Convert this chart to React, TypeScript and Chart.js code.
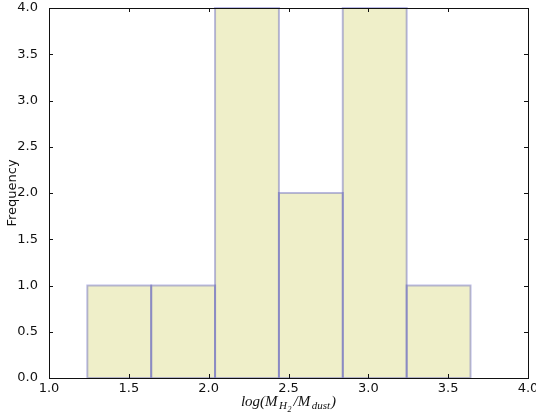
import React, { useEffect, useRef } from "react";
import { Chart, registerables } from "chart.js";

Chart.register(...registerables);

const binEdges = [1.24, 1.64, 2.04, 2.44, 2.84, 3.24, 3.64];
const frequencies = [1, 1, 4, 2, 4, 1];
const xTickValues = [1.0, 1.5, 2.0, 2.5, 3.0, 3.5, 4.0];
const yTickValues = [0.0, 0.5, 1.0, 1.5, 2.0, 2.5, 3.0, 3.5, 4.0];
const yTitle = "Frequency";

const framePlugin = {
  id: "framePlugin",
  afterDatasetsDraw(chart: any) {
    const ctx = chart.ctx;
    const meta = chart.getDatasetMeta(0);
    ctx.save();
    ctx.lineWidth = 2;
    ctx.strokeStyle = "rgba(70,70,190,0.36)";
    meta.data.forEach((el: any) => {
      const p = el.getProps(["x", "y", "base", "width"], true);
      ctx.strokeRect(p.x - p.width / 2, p.y, p.width, p.base - p.y);
    });
    ctx.restore();
  },
  afterDraw(chart: any) {
    const ctx = chart.ctx;
    const a = chart.chartArea;
    const xs = chart.scales.x;
    const ys = chart.scales.y;
    ctx.save();
    ctx.strokeStyle = "#111";
    ctx.lineWidth = 1;
    ctx.strokeRect(Math.round(a.left) + 0.5, Math.round(a.top) + 0.5, Math.round(a.right - a.left), Math.round(a.bottom - a.top));
    const tl = 4;
    ctx.beginPath();
    xTickValues.forEach((v) => {
      const px = Math.round(xs.getPixelForValue(v)) + 0.5;
      ctx.moveTo(px, a.bottom);
      ctx.lineTo(px, a.bottom - tl);
      ctx.moveTo(px, a.top);
      ctx.lineTo(px, a.top + tl);
    });
    yTickValues.forEach((v) => {
      const py = Math.round(ys.getPixelForValue(v)) + 0.5;
      ctx.moveTo(a.left, py);
      ctx.lineTo(a.left + tl, py);
      ctx.moveTo(a.right, py);
      ctx.lineTo(a.right - tl, py);
    });
    ctx.stroke();

    // y title
    ctx.fillStyle = "#111";
    ctx.font = "13px 'DejaVu Sans'";
    ctx.textAlign = "center";
    ctx.textBaseline = "middle";
    ctx.save();
    ctx.translate(13, (a.top + a.bottom) / 2);
    ctx.rotate(-Math.PI / 2);
    ctx.fillText(yTitle, 0, 0);
    ctx.restore();

    // x title: log(M_{H_2}/M_{dust})
    const fam = "'Liberation Serif'";
    const parts = [
      { t: "log(M", size: 15, dy: 0, gap: 1.5 },
      { t: "H", size: 11, dy: 3, gap: 0.5 },
      { t: "2", size: 8, dy: 6, gap: 2 },
      { t: "/M", size: 15, dy: 0, gap: 1.5 },
      { t: "dust", size: 11, dy: 3, gap: 1 },
      { t: ")", size: 15, dy: 0, gap: 0 },
    ];
    let total = 0;
    const widths = parts.map((p) => {
      ctx.font = `italic ${p.size}px ${fam}`;
      const w = ctx.measureText(p.t).width + p.gap;
      total += w;
      return w;
    });
    let x = (a.left + a.right) / 2 - total / 2;
    const base = 406;
    ctx.textAlign = "left";
    ctx.textBaseline = "alphabetic";
    parts.forEach((p, i) => {
      ctx.font = `italic ${p.size}px ${fam}`;
      ctx.fillText(p.t, x, base + p.dy);
      x += widths[i];
    });
    ctx.restore();
  },
};

export default function App() {
  const ref = useRef<HTMLCanvasElement>(null);
  useEffect(() => {
    if (!ref.current) return;
    const centers = frequencies.map((_, i) => (binEdges[i] + binEdges[i + 1]) / 2);
    const chart = new Chart(ref.current, {
      type: "bar",
      data: {
        datasets: [
          {
            data: centers.map((c, i) => ({ x: c, y: frequencies[i] })),
            backgroundColor: "#efefc9",
            borderWidth: 0,
            barPercentage: 1,
            categoryPercentage: 1,
          } as any,
        ],
      },
      options: {
        animation: false,
        responsive: true,
        maintainAspectRatio: false,
        layout: { padding: { left: 0, right: 8, top: 8, bottom: 0 } },
        plugins: { legend: { display: false }, tooltip: { enabled: false } },
        scales: {
          x: {
            type: "linear",
            min: 1,
            max: 4,
            offset: false,
            afterBuildTicks: (s: any) => {
              s.ticks = xTickValues.map((v) => ({ value: v }));
            },
            afterFit: (s: any) => {
              s.height = 42;
              s.paddingLeft = 0;
              s.paddingRight = 0;
            },
            ticks: {
              callback: (v: any) => Number(v).toFixed(1),
              font: { family: "'DejaVu Sans'", size: 13 },
              color: "#111",
              padding: -5,
              maxRotation: 0,
              autoSkip: false,
            },
            grid: { display: false },
            border: { display: false },
          },
          y: {
            min: 0,
            max: 4,
            afterBuildTicks: (s: any) => {
              s.ticks = yTickValues.map((v) => ({ value: v }));
            },
            afterFit: (s: any) => {
              s.width = 49;
              s.paddingTop = 0;
              s.paddingBottom = 0;
            },
            ticks: {
              callback: (v: any) => Number(v).toFixed(1),
              font: { family: "'DejaVu Sans'", size: 13 },
              color: "#111",
              padding: 3,
              autoSkip: false,
            },
            grid: { display: false },
            border: { display: false },
          },
        },
      } as any,
      plugins: [framePlugin],
    });
    return () => chart.destroy();
  }, []);
  return (
    <div style={{ position: "absolute", left: 0, top: 0, width: 536, height: 420, background: "#fff" }}>
      <canvas ref={ref} />
    </div>
  );
}
